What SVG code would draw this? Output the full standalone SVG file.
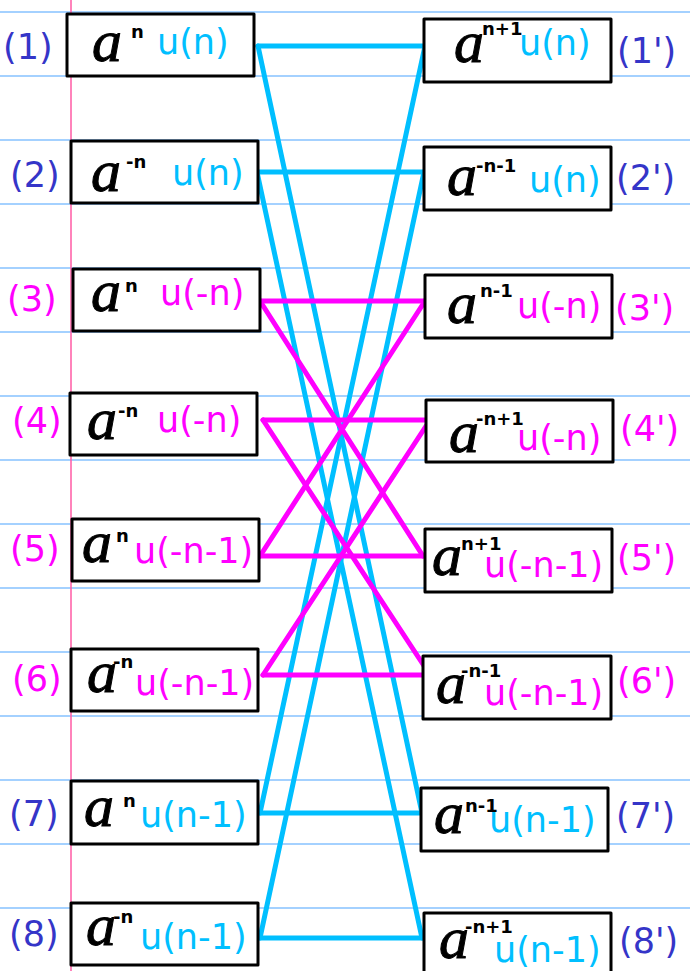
<svg xmlns="http://www.w3.org/2000/svg" width="690" height="971" viewBox="0 0 690 971">
<style>
.rule{stroke:#4aa3ff;stroke-width:1.2}
.box{fill:#fff;stroke:#000;stroke-width:3;stroke-linejoin:round}
.a{font-family:"Liberation Serif",serif;font-style:italic;font-size:60px;fill:#000;stroke:#000;stroke-width:1}
.sup{font-family:"DejaVu Sans",sans-serif;font-weight:bold;font-size:18px;fill:#000}
.t{font-family:"DejaVu Sans",sans-serif;font-size:35px}
.cy{fill:#00bfff}
.mg{fill:#ff00ff}
.ind{fill:#3535c8}
.cl{stroke:#00bfff;stroke-width:5;stroke-linecap:round;fill:none}
.ml{stroke:#ff00ff;stroke-width:5;stroke-linecap:round;fill:none}
</style>
<rect width="690" height="971" fill="#fff"/>
<g id="paper">
<line class="rule" x1="0" y1="12" x2="690" y2="12"/>
<line class="rule" x1="0" y1="76" x2="690" y2="76"/>
<line class="rule" x1="0" y1="140" x2="690" y2="140"/>
<line class="rule" x1="0" y1="204" x2="690" y2="204"/>
<line class="rule" x1="0" y1="268" x2="690" y2="268"/>
<line class="rule" x1="0" y1="332" x2="690" y2="332"/>
<line class="rule" x1="0" y1="396" x2="690" y2="396"/>
<line class="rule" x1="0" y1="460" x2="690" y2="460"/>
<line class="rule" x1="0" y1="524" x2="690" y2="524"/>
<line class="rule" x1="0" y1="588" x2="690" y2="588"/>
<line class="rule" x1="0" y1="652" x2="690" y2="652"/>
<line class="rule" x1="0" y1="716" x2="690" y2="716"/>
<line class="rule" x1="0" y1="780" x2="690" y2="780"/>
<line class="rule" x1="0" y1="844" x2="690" y2="844"/>
<line class="rule" x1="0" y1="908" x2="690" y2="908"/>
<line x1="71" y1="0" x2="71" y2="971" stroke="#ff5aa5" stroke-width="1.5"/>
</g>
<g id="connectors">
<g id="cyan">
<line class="cl" x1="258" y1="46" x2="425" y2="46"/>
<line class="cl" x1="258" y1="46" x2="422" y2="813"/>
<line class="cl" x1="425" y1="46" x2="260" y2="813"/>
<line class="cl" x1="257" y1="172" x2="424" y2="172"/>
<line class="cl" x1="257" y1="172" x2="422" y2="938"/>
<line class="cl" x1="424" y1="172" x2="260" y2="938"/>
<line class="cl" x1="260" y1="813" x2="423" y2="813"/>
<line class="cl" x1="260" y1="938" x2="423" y2="938"/>
</g>
<g id="magenta">
<line class="ml" x1="260" y1="301" x2="425" y2="301"/>
<line class="ml" x1="260" y1="301" x2="423" y2="556"/>
<line class="ml" x1="425" y1="301" x2="260" y2="556"/>
<line class="ml" x1="263" y1="420" x2="430" y2="420"/>
<line class="ml" x1="263" y1="420" x2="430" y2="675"/>
<line class="ml" x1="430" y1="420" x2="263" y2="675"/>
<line class="ml" x1="260" y1="556" x2="423" y2="556"/>
<line class="ml" x1="263" y1="675" x2="430" y2="675"/>
</g>
</g>
<g id="n1"><rect class="box" x="67" y="14" width="187" height="62"/><text class="a" x="92" y="61">a</text><text class="sup" x="131" y="38">n</text><text class="t cy" x="157" y="54">u(n)</text><text class="t ind" x="3" y="59">(1)</text></g>
<g id="n2"><rect class="box" x="71" y="141" width="187" height="62"/><text class="a" x="91" y="191">a</text><text class="sup" x="126" y="168">-n</text><text class="t cy" x="172" y="185">u(n)</text><text class="t ind" x="10" y="187">(2)</text></g>
<g id="n3"><rect class="box" x="73" y="269" width="187" height="62"/><text class="a" x="91" y="311">a</text><text class="sup" x="125" y="292">n</text><text class="t mg" x="160" y="305">u(-n)</text><text class="t mg" x="7" y="311">(3)</text></g>
<g id="n4"><rect class="box" x="70" y="393" width="187" height="62"/><text class="a" x="87" y="439">a</text><text class="sup" x="118" y="417">-n</text><text class="t mg" x="157" y="432">u(-n)</text><text class="t mg" x="12" y="433">(4)</text></g>
<g id="n5"><rect class="box" x="72" y="519" width="187" height="62"/><text class="a" x="82" y="562">a</text><text class="sup" x="116" y="542">n</text><text class="t mg" x="134" y="563">u(-n-1)</text><text class="t mg" x="10" y="561">(5)</text></g>
<g id="n6"><rect class="box" x="71" y="649" width="187" height="62"/><text class="a" x="87" y="692">a</text><text class="sup" x="113" y="668">-n</text><text class="t mg" x="135" y="695">u(-n-1)</text><text class="t mg" x="12" y="691">(6)</text></g>
<g id="n7"><rect class="box" x="71" y="781" width="187" height="63"/><text class="a" x="84" y="826">a</text><text class="sup" x="123" y="807">n</text><text class="t cy" x="140" y="827">u(n-1)</text><text class="t ind" x="9" y="826">(7)</text></g>
<g id="n8"><rect class="box" x="71" y="903" width="187" height="62"/><text class="a" x="86" y="945">a</text><text class="sup" x="113" y="923">-n</text><text class="t cy" x="140" y="949">u(n-1)</text><text class="t ind" x="9" y="946">(8)</text></g>
<g id="n1p"><rect class="box" x="424" y="19" width="187" height="63"/><text class="a" x="454" y="62">a</text><text class="sup" x="482" y="35">n+1</text><text class="t cy" x="519" y="55">u(n)</text><text class="t ind" x="617" y="63">(1')</text></g>
<g id="n2p"><rect class="box" x="424" y="147" width="187" height="63"/><text class="a" x="447" y="195">a</text><text class="sup" x="476" y="172">-n-1</text><text class="t cy" x="529" y="192">u(n)</text><text class="t ind" x="616" y="190">(2')</text></g>
<g id="n3p"><rect class="box" x="425" y="275" width="187" height="63"/><text class="a" x="447" y="323">a</text><text class="sup" x="480" y="297">n-1</text><text class="t mg" x="517" y="318">u(-n)</text><text class="t mg" x="615" y="320">(3')</text></g>
<g id="n4p"><rect class="box" x="426" y="400" width="187" height="62"/><text class="a" x="449" y="452">a</text><text class="sup" x="476" y="425">-n+1</text><text class="t mg" x="517" y="450">u(-n)</text><text class="t mg" x="620" y="441">(4')</text></g>
<g id="n5p"><rect class="box" x="425" y="529" width="187" height="63"/><text class="a" x="432" y="575">a</text><text class="sup" x="461" y="550">n+1</text><text class="t mg" x="484" y="577">u(-n-1)</text><text class="t mg" x="617" y="570">(5')</text></g>
<g id="n6p"><rect class="box" x="423" y="656" width="188" height="63"/><text class="a" x="436" y="703">a</text><text class="sup" x="461" y="677">-n-1</text><text class="t mg" x="484" y="705">u(-n-1)</text><text class="t mg" x="617" y="693">(6')</text></g>
<g id="n7p"><rect class="box" x="421" y="788" width="187" height="63"/><text class="a" x="434" y="833">a</text><text class="sup" x="465" y="812">n-1</text><text class="t cy" x="489" y="832">u(n-1)</text><text class="t ind" x="616" y="828">(7')</text></g>
<g id="n8p"><rect class="box" x="424" y="913" width="187" height="63"/><text class="a" x="439" y="958">a</text><text class="sup" x="465" y="933">-n+1</text><text class="t cy" x="494" y="962">u(n-1)</text><text class="t ind" x="619" y="953">(8')</text></g>
</svg>
